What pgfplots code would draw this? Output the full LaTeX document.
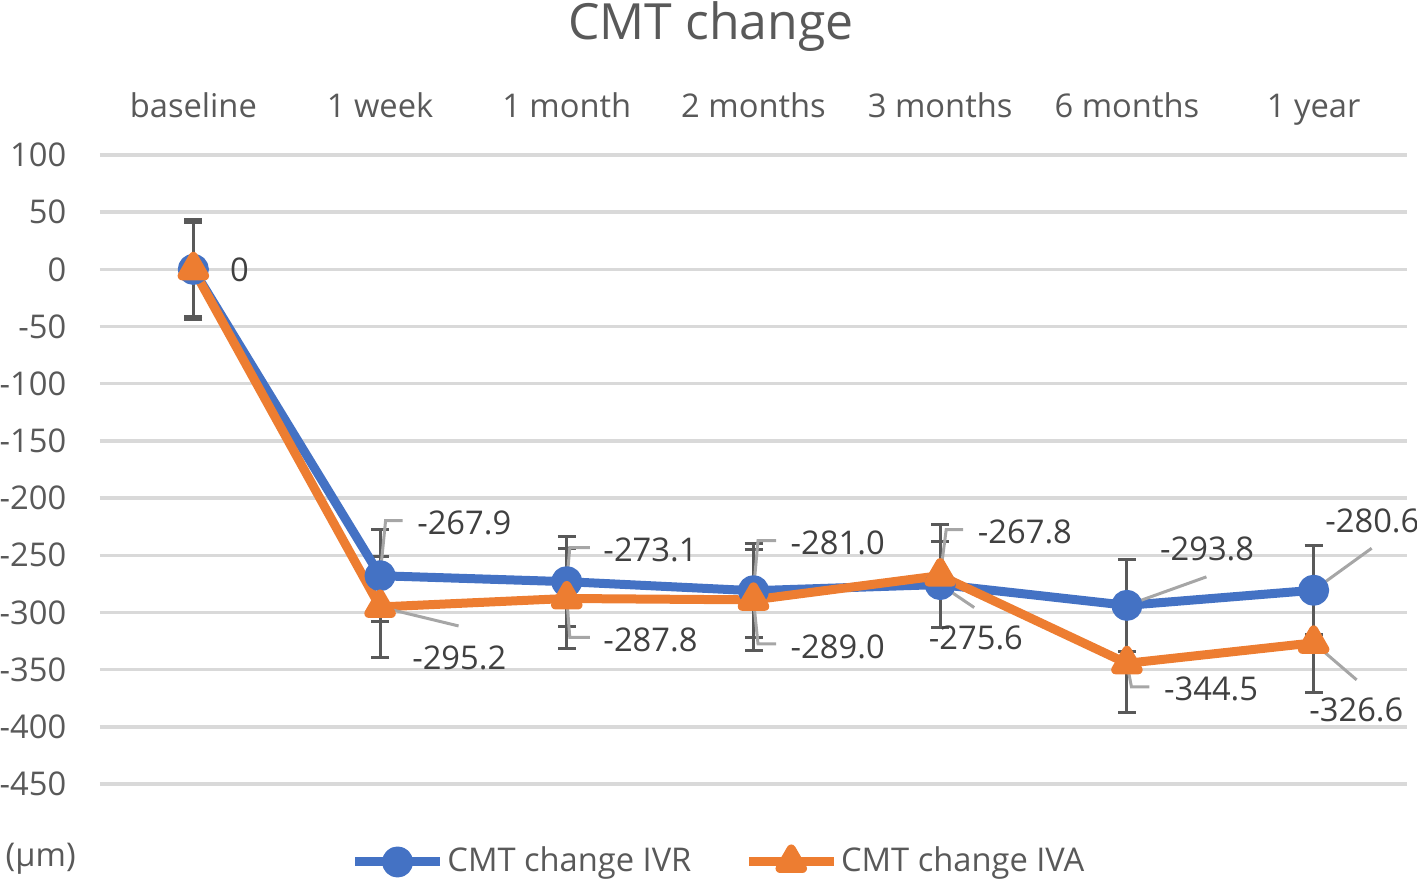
\documentclass[border=0pt]{standalone}
\usepackage{fontspec}
\setmainfont{Open Sans}
\usepackage{pgfplots}
\pgfplotsset{compat=1.18}
\definecolor{ivr}{HTML}{4472C4}
\definecolor{iva}{HTML}{ED7D31}
\definecolor{txt}{HTML}{595959}
\definecolor{lbl}{HTML}{404040}
\definecolor{grd}{HTML}{D9D9D9}
\definecolor{lead}{HTML}{A6A6A6}
\newcommand\lbl[4]{\node[anchor=west,inner sep=0pt,text=lbl,xshift=#2,yshift=#3] at (axis cs:#1) {#4};}

\begin{document}
\begin{tikzpicture}[font=\fontsize{9.3}{11}\selectfont]
\path[use as bounding box] (-10mm,-9.7mm) rectangle (131.7mm,78.4mm);
\begin{axis}[
  scale only axis, width=130.7mm, height=62.9mm,
  xmin=-0.5, xmax=6.5, ymin=-450, ymax=100,
  xtick={0,...,6},
  xticklabels={baseline,1 week,1 month,2 months,3 months,6 months,1 year},
  xticklabel pos=upper,
  ytick distance=50,
  ymajorgrids, grid style={grd, line width=1pt},
  axis line style={draw=none}, major tick length=0pt,
  tick label style={text=txt, font=\fontsize{9.3}{11}\selectfont},
  yticklabel style={anchor=east, inner sep=0pt, xshift=-3.3mm},
  xticklabel style={anchor=base, inner sep=0pt, yshift=3.7mm},
  /pgf/number format/assume math mode=true,
  clip=false,
  legend style={at={(0.4735,-0.124)}, anchor=center, draw=none, fill=none,
    legend columns=2, text=txt, font=\fontsize{9.3}{11}\selectfont,
    nodes={inner sep=0.8pt},
    /tikz/every even column/.append style={column sep=5mm}},
  legend image code/.code={\draw[mark repeat=2, mark phase=2]
    plot coordinates {(0mm,0mm)(4.25mm,0mm)(8.5mm,0mm)};},
]
% error bars (behind the lines)
\addplot[forget plot, only marks, mark=none,
  error bars/.cd, y dir=both, y explicit,
  error bar style={line width=0.3mm, txt},
  error mark options={rotate=90, mark size=0.9mm, line width=0.3mm, txt}]
  coordinates {(0,0) +- (0,44) (1,-267.9) +- (0,40) (2,-273.1) +- (0,39.5)
    (3,-281.0) +- (0,41) (4,-275.6) +- (0,38) (5,-293.8) +- (0,40) (6,-280.6) +- (0,39)};
\addplot[forget plot, only marks, mark=none,
  error bars/.cd, y dir=both, y explicit,
  error bar style={line width=0.3mm, txt},
  error mark options={rotate=90, mark size=0.9mm, line width=0.3mm, txt}]
  coordinates {(0,0) +- (0,41) (1,-295.2) +- (0,44) (2,-287.8) +- (0,44)
    (3,-289.0) +- (0,44) (4,-267.8) +- (0,45) (5,-344.5) +- (0,43) (6,-326.6) +- (0,43.5)};
% series
\addplot[ivr, line width=0.9mm, line join=round, mark=*, mark size=1.1mm,
  mark options={draw=none, fill=ivr}]
  coordinates {(0,0) (1,-267.9) (2,-273.1) (3,-281.0) (4,-275.6) (5,-293.8) (6,-280.6)};
\addlegendentry{CMT change IVR}
\addplot[iva, line width=0.9mm, line join=round, mark=triangle*, mark size=1.3mm,
  mark options={draw=none, fill=iva}]
  coordinates {(0,0) (1,-295.2) (2,-287.8) (3,-289.0) (4,-267.8) (5,-344.5) (6,-326.6)};
\addlegendentry{CMT change IVA}
% leader lines
\draw[lead, line width=0.3mm] (axis cs:1,-267.9) -- ++(0.55mm,5.5mm) -- ++(1.7mm,0mm);
\draw[lead, line width=0.3mm] (axis cs:1,-295.2) -- ++(7.85mm,-1.9mm);
\draw[lead, line width=0.3mm] (axis cs:2,-273.1) -- ++(0.3mm,3.4mm) -- ++(2mm,0mm);
\draw[lead, line width=0.3mm] (axis cs:2,-287.8) -- ++(0.3mm,-3.9mm) -- ++(2mm,0mm);
\draw[lead, line width=0.3mm] (axis cs:3,-281.0) -- ++(0.45mm,5mm) -- ++(1.8mm,0mm);
\draw[lead, line width=0.3mm] (axis cs:3,-289.0) -- ++(0.45mm,-4.4mm) -- ++(1.8mm,0mm);
\draw[lead, line width=0.3mm] (axis cs:4,-275.6) -- ++(3.4mm,-2.3mm);
\draw[lead, line width=0.3mm] (axis cs:4,-267.8) -- ++(0.6mm,4.6mm) -- ++(1.7mm,0mm);
\draw[lead, line width=0.3mm] (axis cs:5,-293.8) -- ++(7.95mm,2.85mm);
\draw[lead, line width=0.3mm] (axis cs:5,-344.5) -- ++(0.45mm,-2.35mm) -- ++(1.8mm,0mm);
\draw[lead, line width=0.3mm] (axis cs:6,-280.6) -- ++(5.8mm,4.2mm);
\draw[lead, line width=0.3mm] (axis cs:6,-326.6) -- ++(4.3mm,-3.7mm);
% data labels
\lbl{0,0}{3.6mm}{0mm}{0}
\lbl{1,-267.9}{3.65mm}{5.3mm}{-267.9}
\lbl{1,-295.2}{3.15mm}{-5.1mm}{-295.2}
\lbl{2,-273.1}{3.6mm}{3.2mm}{-273.1}
\lbl{2,-287.8}{3.6mm}{-4.15mm}{-287.8}
\lbl{3,-281.0}{3.65mm}{4.8mm}{-281.0}
\lbl{3,-289.0}{3.65mm}{-4.7mm}{-289.0}
\lbl{4,-275.6}{-1.2mm}{-5.35mm}{-275.6}
\lbl{4,-267.8}{3.7mm}{4.4mm}{-267.8}
\lbl{5,-293.8}{3.25mm}{5.65mm}{-293.8}
\lbl{5,-344.5}{3.65mm}{-2.55mm}{-344.5}
\lbl{6,-280.6}{1.1mm}{6.95mm}{-280.6}
\lbl{6,-326.6}{-0.5mm}{-6.7mm}{-326.6}
\end{axis}
\node[anchor=base, text=txt, font=\fontsize{14.2}{17}\selectfont] at (61.1mm,74.4mm) {CMT change};
\node[anchor=base west, inner sep=0pt, text=txt] at (-9.5mm,-8.3mm) {(μm)};
\end{tikzpicture}
\end{document}
